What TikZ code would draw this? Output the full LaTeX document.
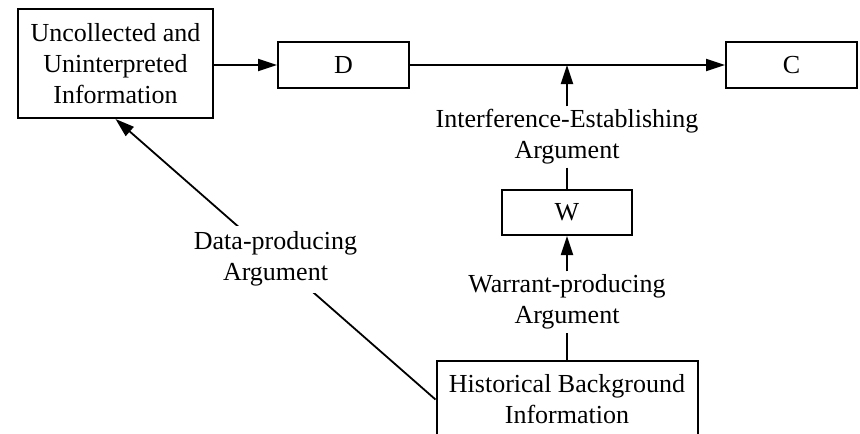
\documentclass[tikz,border=0pt]{standalone}
\usepackage{fontspec}
\setmainfont{Liberation Serif}
\usetikzlibrary{arrows.meta}
\begin{document}
\begin{tikzpicture}[x=1pt,y=-1pt,
  txt/.style={font=\fontsize{26}{31}\selectfont, align=center},
  box/.style={txt, draw, line width=2pt, inner sep=0pt},
  lbl/.style={txt, inner sep=3pt},
  conn/.style={line width=1.8pt},
  arr/.style={conn, -{Triangle[length=19pt,width=12pt]}}]
\clip (0,0) rectangle (860,434);
\node[box, minimum width=195pt, minimum height=109pt] (U) at (115.5,63.5) {Uncollected and\\Uninterpreted\\Information};
\node[box, minimum width=131pt, minimum height=46pt] (D) at (343.5,65) {D};
\node[box, minimum width=131pt, minimum height=46pt] (C) at (791.5,65) {C};
\node[box, minimum width=130pt, minimum height=45pt] (W) at (567,212.5) {W};
\node[box, minimum width=261pt, minimum height=77pt] (H) at (567,399.5) {Historical Background\\Information};
\node[lbl] (IEA) at (567,137) {Interference-Establishing\\Argument};
\node[lbl] (WPA) at (567,302) {Warrant-producing\\Argument};
\coordinate (J) at (567,65);
\draw[arr] (U.east |- D.west) -- (D.west);
\draw[arr] (D) -- (C);
\draw[arr] (IEA.north) -- (J);
\draw[conn] (IEA.south) -- (W.north);
\draw[arr] (WPA.north) -- (W.south);
\draw[conn] (H.north) -- (WPA.south);
\draw[arr] (H.west) -- node[lbl, fill=white, inner sep=6pt, pos=0.5] (DPA) {Data-producing\\Argument} (U.south);
\end{tikzpicture}
\end{document}
